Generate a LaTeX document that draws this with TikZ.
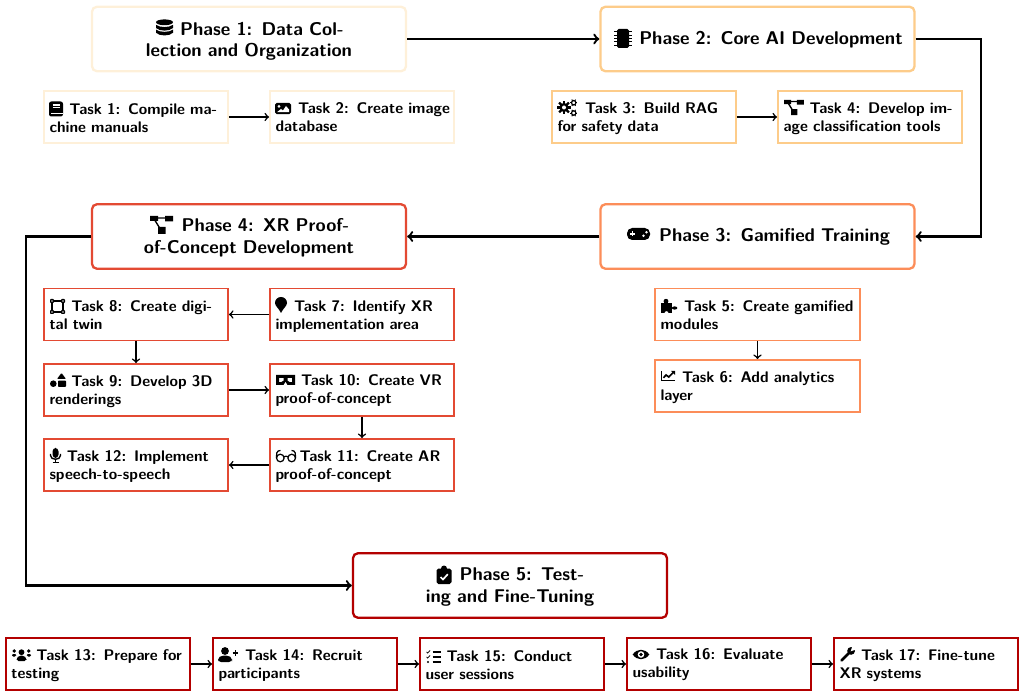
\documentclass[tikz,border=0pt]{standalone}
\usepackage{xcolor}
\definecolor{cA}{HTML}{FEF0D9}
\definecolor{cB}{HTML}{FDCC8A}
\definecolor{cC}{HTML}{FC8D59}
\definecolor{cD}{HTML}{E34A33}
\definecolor{cE}{HTML}{B30000}
\newlength{\pxu}\setlength{\pxu}{0.65pt}
\newcommand{\gapx}[1]{\hspace*{#1\pxu}}
\tikzset{
  x=\pxu,y=-\pxu,
  lb/.style={text depth=2pt,text height={2*#1*0.65pt+2pt}},
  lbp/.style={text height=2pt,text depth={2pt+2*(21.4-#1)*0.65pt}},
  lbt/.style={text height=2pt,text depth={2pt+2*(18-#1)*0.65pt}},
  phasebox/.style={draw,rounded corners=3.2pt,line width=1.5pt,fill=white,minimum width=314\pxu,minimum height=64.5\pxu,
    text width=306\pxu,align=center,inner sep=0pt,font=\sffamily\bfseries\fontsize{12}{13.9}\selectfont,text=black},
  taskbox/.style={draw,line width=1.2pt,fill=white,minimum width=184\pxu,minimum height=52\pxu,
    text width=173\pxu,align=left,inner sep=0pt,font=\sffamily\bfseries\fontsize{10}{11.7}\selectfont,text=black},
  taskwide/.style={taskbox,minimum width=205\pxu,text width=194\pxu},
  mainflow/.style={->,line width=1.5pt,black},
  taskflow/.style={->,line width=1pt,black},
  icoDatabase/.pic={
    \fill (0,-5.7) ellipse (8.5 and 2.9);
    \foreach \a in {-3.2,1.6}{
      \fill (-8.5,\a) .. controls (-5,\a+3) and (5,\a+3) .. (8.5,\a) -- (8.5,\a+3.2) .. controls (5,\a+6.7) and (-5,\a+6.7) .. (-8.5,\a+3.2) -- cycle;}
  },
  icoChip/.pic={
    \fill[rounded corners=1pt] (-6,-9.5) rectangle (6,9.5);
    \foreach \a in {-6.6,-3.2,0,3.2,6.6}{\draw[line width=0.6pt] (-9,\a) -- (9,\a);}
  },
  icoPad/.pic={
    \fill[rounded corners=3.4pt] (-11.5,-6) rectangle (11.5,6);
    \draw[white,line width=0.9pt] (-8.5,0) -- (-3.5,0) (-6,-2.5) -- (-6,2.5);
    \fill[white] (5,1.7) circle (1.4) (8,-1.7) circle (1.4);
  },
  icoDiagram/.pic={
    \draw[line width=0.9pt] (-8,-7) -- (8,-7) (-8,-7) -- (0,6);
    \fill (-11.5,-9) rectangle (-3.5,-4) (3.5,-9) rectangle (11.5,-3.5) (-3.5,2) rectangle (4,9);
  },
  icoClip/.pic={
    \fill[rounded corners=1.2pt] (-7.5,-6.5) rectangle (7.5,9);
    \fill (0,-6.5) circle (3);
    \draw[white,line width=1.1pt] (-3.5,2) -- (-1,4.5) -- (3.8,-0.8);
  },
  icoBook/.pic={
    \fill[rounded corners=1.5pt] (-7,-7.5) rectangle (7,7.5);
    \draw[white,line width=0.7pt] (-3.5,-4) -- (4,-4) (-3.5,-1.2) -- (4,-1.2) (-5,4.6) -- (7,4.6);
  },
  icoImage/.pic={
    \fill[rounded corners=1.2pt] (-8,-5.7) rectangle (8,5.7);
    \fill[white] (-4,-2.2) circle (1.5);
    \fill[white] (-6,3.7) -- (-2,0.5) -- (0,2) -- (3,-2.5) -- (6,1) -- (6,3.7) -- cycle;
  },
  icoCogs/.pic={
    \fill (-3.5,0) circle (4.6);
    \foreach \a in {0,45,...,315}{\draw[line width=1.4pt] (-3.5,0) -- ++(\a:6.9);}
    \fill[white] (-3.5,0) circle (2);
    \foreach \c in {5.8,-5.0}{
      \draw[line width=0.8pt] (6.2,\c*0.95) circle (2.2);
      \foreach \a in {0,60,...,300}{\draw[line width=0.6pt] (6.2,\c*0.95) ++(\a:2.4) -- ++(\a:1.3);}
    }
  },
  icoPuzzle/.pic={
    \fill (-8,-2.5) rectangle (3,7);
    \fill (-3,-4.8) circle (2.4);
    \fill (5.6,2) ellipse (2.8 and 1.6);
    \fill[white] (-2.5,7.2) circle (2);
  },
  icoChart/.pic={
    \draw[line width=0.9pt] (-6.7,-5) -- (-6.7,4.7) -- (7,4.7);
    \draw[line width=1.1pt] (-4.5,1.8) -- (-2,-1) -- (0.8,1) -- (5.5,-3.8);
    \fill (7,-5) -- (3,-5) -- (7,-1) -- cycle;
  },
  icoMarker/.pic={
    \fill (0,8) .. controls (-2,3.5) and (-6,1) .. (-6,-2) .. controls (-6,-5.5) and (-3.3,-8) .. (0,-8) .. controls (3.3,-8) and (6,-5.5) .. (6,-2) .. controls (6,1) and (2,3.5) .. (0,8) -- cycle;
  },
  icoPoly/.pic={
    \draw[line width=0.8pt] (-5.5,-5.5) rectangle (5.5,5.5);
    \fill[rounded corners=0.5pt] (-7.5,-7.5) rectangle (-3.5,-3.5) (3.5,-7.5) rectangle (7.5,-3.5) (-7.5,3.5) rectangle (-3.5,7.5) (3.5,3.5) rectangle (7.5,7.5);
    \fill[white] (-6.2,-6.2) rectangle (-4.8,-4.8) (4.8,-6.2) rectangle (6.2,-4.8) (-6.2,4.8) rectangle (-4.8,6.2) (4.8,4.8) rectangle (6.2,6.2);
  },
  icoShapes/.pic={
    \fill (-4.7,3.7) circle (3.3);
    \fill[rounded corners=0.5pt] (0,0.6) rectangle (8,7);
    \fill[rounded corners=0.5pt] (-1,-1) -- (3.5,-7) -- (8,-1) -- cycle;
  },
  icoVr/.pic={
    \fill[even odd rule] (-9.5,-5) rectangle (9.5,5)
       (-6.5,-2.2) -- (-2,-2.2) -- (-2,0.8) -- (-4.5,2.2) -- (-6.5,2.2) -- cycle
       (6.5,-2.2) -- (2,-2.2) -- (2,0.8) -- (4.5,2.2) -- (6.5,2.2) -- cycle;
    \fill[white] (-2,5.2) -- (0,2) -- (2,5.2) -- cycle;
  },
  icoGlasses/.pic={
    \draw[line width=0.8pt] (-5.7,2) circle (3.8) (5.7,2) circle (3.8);
    \draw[line width=0.8pt] (-2.2,0.8) .. controls (-1,0) and (1,0) .. (2.2,0.8);
    \draw[line width=0.8pt] (-9.5,2) -- (-9.3,-3) .. controls (-9,-5) and (-7,-5.5) .. (-5.5,-5.5);
    \draw[line width=0.8pt] (9.5,2) -- (9.3,-3) .. controls (9,-5) and (7,-5.5) .. (5.5,-5.5);
  },
  icoMic/.pic={
    \fill[rounded corners=2.2pt] (-3,-7.5) rectangle (3,2.5);
    \draw[line width=0.9pt] (-5,-1.5) -- (-5,0) .. controls (-5,5) and (5,5) .. (5,0) -- (5,-1.5);
    \draw[line width=0.9pt] (0,4) -- (0,7.2) (-3,7.2) -- (3,7.2);
  },
  icoUsers/.pic={
    \fill (0,-2.3) circle (2.9);
    \fill[rounded corners=1.2pt] (-5,6.5) -- (-5,3.5) -- (-2.5,1.2) -- (2.5,1.2) -- (5,3.5) -- (5,6.5) -- cycle;
    \fill (-7.2,-3.5) circle (1.9) (7.2,-3.5) circle (1.9);
    \fill[rounded corners=0.8pt] (-9.5,2) -- (-9.5,-0.5) -- (-5,-0.5) -- (-5.5,2) -- cycle;
    \fill[rounded corners=0.8pt] (9.5,2) -- (9.5,-0.5) -- (5,-0.5) -- (5.5,2) -- cycle;
  },
  icoUserPlus/.pic={
    \fill (-3,-3.5) circle (3.9);
    \fill[rounded corners=2pt] (-10,7.5) -- (-10,3.8) -- (-6.5,1) -- (0.5,1) -- (4,3.8) -- (4,7.5) -- cycle;
    \draw[line width=0.9pt] (4.5,-1.5) -- (10,-1.5) (7.2,-4.2) -- (7.2,1.2);
  },
  icoTasks/.pic={
    \draw[line width=0.7pt] (-1,-5) -- (7.5,-5) (-1,0) -- (7.5,0) (-1,5) -- (7.5,5);
    \draw[line width=0.5pt] (-7,-5) -- (-5.8,-4) -- (-3.5,-6.5);
    \draw[line width=0.5pt] (-7,0) -- (-5.8,1) -- (-3.5,-1.5);
    \fill (-5.5,5) circle (1.2);
  },
  icoEye/.pic={
    \fill (-8.3,0) .. controls (-4,-6.3) and (4,-6.3) .. (8.3,0) .. controls (4,6.3) and (-4,6.3) .. (-8.3,0) -- cycle;
    \fill[white] (0,0) circle (3.3);
    \fill (0,0) circle (1.9);
  },
  icoWrench/.pic={
    \draw[line width=1.7pt,line cap=round] (-6,6) -- (2,-2);
    \fill (3.6,-3.6) circle (3.9);
    \fill[white] (3.2,-3.2) -- (5,-8.5) -- (8.5,-5) -- cycle;
  }
}
\begin{document}
\begin{tikzpicture}
\useasboundingbox (0,0) rectangle (1024,697);
\node[phasebox,draw=cA,lbp=17.7] (p1) at (249,39) {\gapx{26}Phase 1: Data Col-\\lection and Organization};
\node[phasebox,draw=cB,lb=6] (p2) at (757.5,39) {\gapx{27}Phase 2: Core AI Development};
\node[phasebox,draw=cC,lb=4.8] (p3) at (757.5,236.5) {\gapx{34}Phase 3: Gamified Training};
\node[phasebox,draw=cD,lbp=16.8] (p4) at (249,236.5) {\gapx{33}Phase 4: XR Proof-\\of-Concept Development};
\node[phasebox,draw=cE,lbp=16.8] (p5) at (510,585.5) {\gapx{24}Phase 5: Test-\\ing and Fine-Tuning};

\node[taskbox,draw=cA,lbt=15.2] (t1) at (136,117) {\gapx{20}Task 1: Compile ma-\\chine manuals};
\node[taskbox,draw=cA,lbt=14.7] (t2) at (362,117) {\gapx{22.5}\mbox{Task 2: Create image}\\database};
\node[taskbox,draw=cB,lbt=14.7] (t3) at (644,117) {\gapx{27.5}Task 3: Build RAG\\for safety data};
\node[taskbox,draw=cB,lbt=14.7] (t4) at (870,117) {\gapx{26}Task 4: Develop im-\\age classification tools};
\node[taskwide,draw=cC,lbt=15.5] (t5) at (757.5,314.5) {\gapx{23.5}Task 5: Create gamified\\modules};
\node[taskwide,draw=cC,lbt=14.5] (t6) at (757.5,386) {\gapx{21.5}Task 6: Add analytics\\layer};
\node[taskbox,draw=cD,lbt=14.8] (t7) at (362,314.5) {\gapx{18.5}Task 7: Identify XR\\implementation area};
\node[taskbox,draw=cD,lbt=15.5] (t8) at (136,314.5) {\gapx{22}Task 8: Create digi-\\tal twin};
\node[taskbox,draw=cD,lbt=15] (t9) at (136,390) {\gapx{22}Task 9: Develop 3D\\renderings};
\node[taskbox,draw=cD,lbt=13.5] (t10) at (362,390) {\gapx{25.5}Task 10: Create VR\\proof-of-concept};
\node[taskbox,draw=cD,lbt=14.3] (t11) at (362,465) {\gapx{24}Task 11: Create AR\\proof-of-concept};
\node[taskbox,draw=cD,lbt=14.3] (t12) at (136,465) {\gapx{17.5}Task 12: Implement\\speech-to-speech};
\node[taskbox,draw=cE,lbt=14] (t13) at (98,664) {\gapx{25}Task 13: Prepare for\\testing};
\node[taskbox,draw=cE,lbt=14] (t14) at (305,664) {\gapx{26.5}Task 14: Recruit\\participants};
\node[taskbox,draw=cE,lbt=15.5] (t15) at (512,664) {\gapx{21}Task 15: Conduct\\user sessions};
\node[taskbox,draw=cE,lbt=13.7] (t16) at (719,664) {\gapx{23.5}Task 16: Evaluate\\usability};
\node[taskbox,draw=cE,lbt=14.3] (t17) at (926,664) {\gapx{21.5}Task 17: Fine-tune\\XR systems};

\pic at (164.5,28) {icoDatabase};
\pic at (623,38.5) {icoChip};
\pic at (638.5,234) {icoPad};
\pic at (161.5,225) {icoDiagram};
\pic at (444,575) {icoClip};
\pic at (56,109) {icoBook};
\pic at (283,108.5) {icoImage};
\pic at (567.5,107.5) {icoCogs};
\pic[scale=0.85] at (794,107.5) {icoDiagram};
\pic at (669,306) {icoPuzzle};
\pic at (668,376) {icoChart};
\pic at (281,305) {icoMarker};
\pic at (57.5,306.5) {icoPoly};
\pic at (58,380) {icoShapes};
\pic at (285.5,380) {icoVr};
\pic at (286,456) {icoGlasses};
\pic at (55.5,455.5) {icoMic};
\pic at (21.5,654.5) {icoUsers};
\pic at (228,654.5) {icoUserPlus};
\pic at (433.5,657) {icoTasks};
\pic at (641,654.5) {icoEye};
\pic at (847.5,654.5) {icoWrench};

\coordinate (b1) at (981,39);
\coordinate (b2) at (981,236.5);
\coordinate (b3) at (26,236.5);
\coordinate (b4) at (26,585.5);
\draw[mainflow] (p1.east) -- (p2.west);
\draw[mainflow] (p2.east) -- (b1) -- (b2) -- (p3.east);
\draw[mainflow] (p3.west) -- (p4.east);
\draw[mainflow] (p4.west) -- (b3) -- (b4) -- (p5.west);

\draw[taskflow] (t1) -- (t2);
\draw[taskflow] (t3) -- (t4);
\draw[taskflow] (t5) -- (t6);
\draw[taskflow] (t7) -- (t8);
\draw[taskflow] (t8) -- (t9);
\draw[taskflow] (t9) -- (t10);
\draw[taskflow] (t10) -- (t11);
\draw[taskflow] (t11) -- (t12);
\draw[taskflow] (t13) -- (t14);
\draw[taskflow] (t14) -- (t15);
\draw[taskflow] (t15) -- (t16);
\draw[taskflow] (t16) -- (t17);
\end{tikzpicture}
\end{document}
